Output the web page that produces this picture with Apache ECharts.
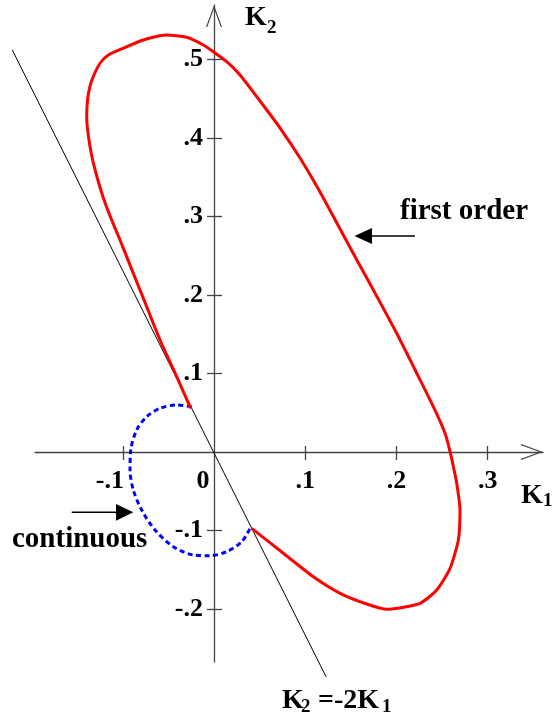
<!DOCTYPE html>
<html>
<head>
<meta charset="utf-8">
<script src="https://cdn.jsdelivr.net/npm/echarts/dist/echarts.min.js"></script>
<style>
  html, body { margin: 0; padding: 0; background: #fff; }
  #main { width: 556px; height: 721px; }
</style>
</head>
<body>
<div id="main"></div>
<script>
// first order boundary (red), in (K1, K2)
const redK1 = [-0.0255, -0.0409, -0.0592, -0.0738, -0.0885, -0.1031, -0.1140, -0.1217, -0.1283, -0.1338,
  -0.1376, -0.1396, -0.1387, -0.1360, -0.1316, -0.1250, -0.1159, -0.0995, -0.0775, -0.0519,
  -0.0299, -0.0117, -0.0008, 0.0139, 0.0285, 0.0504, 0.0724, 0.0943, 0.1162, 0.1382,
  0.1557, 0.1747, 0.2003, 0.2223, 0.2405, 0.2533, 0.2588, 0.2632, 0.2661, 0.2697,
  0.2679, 0.2588, 0.2442, 0.2259, 0.1894, 0.1674, 0.1382, 0.1089, 0.0760, 0.0413];
const redK2 = [0.0557, 0.0959, 0.1427, 0.1851, 0.2276, 0.2701, 0.3006, 0.3248, 0.3503, 0.3758,
  0.4013, 0.4268, 0.4484, 0.4662, 0.4803, 0.4952, 0.5057, 0.5143, 0.5248, 0.5312,
  0.5283, 0.5185, 0.5099, 0.4972, 0.4803, 0.4471, 0.4127, 0.3745, 0.3312, 0.2841,
  0.2465, 0.2064, 0.1512, 0.1003, 0.0577, 0.0238, 0.0004, -0.0229, -0.0399, -0.0739,
  -0.1121, -0.1482, -0.1758, -0.1927, -0.2004, -0.1936, -0.1800, -0.1589, -0.1290, -0.0972];

// continuous boundary (blue dashed)
const blueK1 = [-0.0245, -0.0409, -0.0592, -0.0738, -0.0848, -0.0913, -0.0921, -0.0885,
  -0.0793, -0.0647, -0.0446, -0.0227, -0.0044, 0.0139, 0.0304, 0.0395];
const blueK2 = [0.0577, 0.0599, 0.0557, 0.0450, 0.0280, 0.0025, -0.0229, -0.0484,
  -0.0739, -0.0994, -0.1206, -0.1312, -0.1321, -0.1270, -0.1143, -0.0972];

// straight line K2 = -2K1 (end points as drawn)
const lineK1 = [-0.2212, 0.1228];
const lineK2 = [0.5121, -0.2862];

// axis ticks / labels
const xTickValues = [-0.1, 0.1, 0.2, 0.3];
const xLabelValues = [-0.1, 0, 0.1, 0.2, 0.3];
const yTickValues = [-0.2, -0.1, 0.1, 0.2, 0.3, 0.4, 0.5];
const xRange = [-0.1963, 0.3607];
const yRange = [-0.2675, 0.5694];

const serif = "'Liberation Serif', 'Times New Roman', serif";
const axisColor = '#444';
// open chevron arrow for the axis ends
const chevron = 'path://M0,0L8,22L6.7,22L0,3.4L-6.7,22L-8,22Z';

const pairs = (xs, ys) => xs.map((x, i) => [x, ys[i]]);
const fmtTick = (v) => {
  if (Math.abs(v) < 1e-9) return '0';
  return (v < 0 ? '-' : '') + '.' + Math.round(Math.abs(v) * 10);
};

const initChart = () => {
  const main = document.getElementById('main');
  const W = main.clientWidth;
  const H = main.clientHeight;
  const myChart = echarts.init(main, null, { renderer: 'canvas' });

  // grid box; axes cross at (0,0) inside it
  const grid = { left: 35, right: 13, top: 5, bottom: 59 };
  const plotW = W - grid.left - grid.right;
  const plotH = H - grid.top - grid.bottom;
  const pxPerX = plotW / (xRange[1] - xRange[0]);
  const pxPerY = plotH / (yRange[1] - yRange[0]);
  const zeroX = grid.left + (0 - xRange[0]) * pxPerX;
  const zeroY = grid.top + (yRange[1] - 0) * pxPerY;
  // full-canvas grid with the same scale, so the long straight line can run past the axes
  const fullX = [-zeroX / pxPerX, (W - zeroX) / pxPerX];
  const fullY = [-(H - zeroY) / pxPerY, zeroY / pxPerY];

  const labelFont = { fontFamily: serif, fontWeight: 'bold', fontSize: 26, color: '#000' };
  const tickStyle = { color: axisColor, width: 1.3 };

  const xAxisBase = {
    type: 'value',
    min: xRange[0],
    max: xRange[1],
    splitLine: { show: false },
  };
  const yAxisBase = {
    type: 'value',
    min: yRange[0],
    max: yRange[1],
    splitLine: { show: false },
  };

  const options = {
    animation: false,
    grid: [
      { ...grid, outerBoundsMode: 'none' },
      { left: 0, right: 0, top: 0, bottom: 0, outerBoundsMode: 'none' },
    ],
    xAxis: [
      {
        ...xAxisBase,
        position: 'bottom',
        offset: zeroY - (H - grid.bottom), // move up to K2 = 0
        axisLine: {
          onZero: false,
          symbol: ['none', chevron],
          symbolSize: [16, 22],
          symbolOffset: [0, -11],
          lineStyle: { color: axisColor, width: 1.3 },
        },
        axisTick: { show: true, length: 8, customValues: xTickValues, lineStyle: tickStyle },
        axisLabel: {
          ...labelFont,
          margin: 16,
          customValues: xLabelValues,
          formatter(v) {
            const s = fmtTick(v);
            if (s === '0') return '{z|0}';
            if (s === '-.1') return '{m|-.1}';
            return s;
          },
          rich: {
            z: { ...labelFont, padding: [0, 22, 0, 0] },
            m: { ...labelFont, padding: [0, 26, 0, 0] },
          },
        },
      },
      {
        // second copy only for the upper half of the ticks
        ...xAxisBase,
        position: 'top',
        offset: grid.top - zeroY,
        axisLine: { show: false, onZero: false },
        axisTick: { show: true, length: 6, customValues: xTickValues, lineStyle: tickStyle },
        axisLabel: { show: false },
      },
      { type: 'value', gridIndex: 1, min: fullX[0], max: fullX[1], show: false },
    ],
    yAxis: [
      {
        ...yAxisBase,
        position: 'left',
        offset: grid.left - zeroX, // move right to K1 = 0
        axisLine: {
          onZero: false,
          symbol: ['none', chevron],
          symbolSize: [16, 22],
          symbolOffset: [0, -11],
          lineStyle: { color: axisColor, width: 1.3 },
        },
        axisTick: { show: true, length: 7, customValues: yTickValues, lineStyle: tickStyle },
        axisLabel: {
          ...labelFont,
          margin: 11,
          customValues: yTickValues,
          formatter: (v) => fmtTick(v),
        },
      },
      {
        ...yAxisBase,
        position: 'right',
        offset: zeroX - (W - grid.right),
        axisLine: { show: false, onZero: false },
        axisTick: { show: true, length: 8, customValues: yTickValues, lineStyle: tickStyle },
        axisLabel: { show: false },
      },
      { type: 'value', gridIndex: 1, min: fullY[0], max: fullY[1], show: false },
    ],
    series: [
      {
        name: 'K2=-2K1',
        type: 'line',
        xAxisIndex: 2,
        yAxisIndex: 2,
        data: pairs(lineK1, lineK2),
        showSymbol: false,
        lineStyle: { color: '#000', width: 1 },
        z: 3,
      },
      {
        name: 'continuous',
        type: 'line',
        data: pairs(blueK1, blueK2),
        showSymbol: false,
        smooth: 0.3,
        lineStyle: { color: '#0000ff', width: 3, type: [5, 3.5] },
        z: 4,
      },
      {
        name: 'first order',
        type: 'line',
        data: pairs(redK1, redK2),
        showSymbol: false,
        smooth: 0.2,
        lineStyle: { color: '#ff0000', width: 3 },
        z: 5,
      },
    ],
    graphic: [
      // axis titles
      { type: 'text', x: 245, y: 17.5, style: { text: 'K', font: 'bold 28px ' + serif, fill: '#000', verticalAlign: 'middle' } },
      { type: 'text', x: 267, y: 28, style: { text: '2', font: 'bold 19px ' + serif, fill: '#000', verticalAlign: 'middle' } },
      { type: 'text', x: 521, y: 495.5, style: { text: 'K', font: 'bold 28px ' + serif, fill: '#000', verticalAlign: 'middle' } },
      { type: 'text', x: 543, y: 501, style: { text: '1', font: 'bold 19px ' + serif, fill: '#000', verticalAlign: 'middle' } },
      // line label
      { type: 'text', x: 282, y: 700.5, style: { text: 'K', font: 'bold 28px ' + serif, fill: '#000', verticalAlign: 'middle' } },
      { type: 'text', x: 301, y: 707, style: { text: '2', font: 'bold 19px ' + serif, fill: '#000', verticalAlign: 'middle' } },
      { type: 'text', x: 318, y: 700.5, style: { text: '=-2K', font: 'bold 28px ' + serif, fill: '#000', verticalAlign: 'middle' } },
      { type: 'text', x: 382, y: 707, style: { text: '1', font: 'bold 19px ' + serif, fill: '#000', verticalAlign: 'middle' } },
      // annotations
      { type: 'text', x: 400, y: 212, style: { text: 'first order', font: 'bold 29px ' + serif, fill: '#000', verticalAlign: 'middle' } },
      { type: 'line', shape: { x1: 371, y1: 236, x2: 415, y2: 236 }, style: { stroke: '#000', lineWidth: 1.5 } },
      { type: 'polygon', shape: { points: [[354.5, 236], [372, 228], [372, 244]] }, style: { fill: '#000' } },
      { type: 'text', x: 12, y: 540, style: { text: 'continuous', font: 'bold 29px ' + serif, fill: '#000', verticalAlign: 'middle' } },
      { type: 'line', shape: { x1: 71.7, y1: 512.3, x2: 117, y2: 512.3 }, style: { stroke: '#000', lineWidth: 1.5 } },
      { type: 'polygon', shape: { points: [[133.3, 512.3], [116, 504], [116, 520.7]] }, style: { fill: '#000' } },
    ],
  };
  myChart.setOption(options);
  window.onresize = function () {
    myChart.resize();
  };
};
initChart();
</script>
</body>
</html>
